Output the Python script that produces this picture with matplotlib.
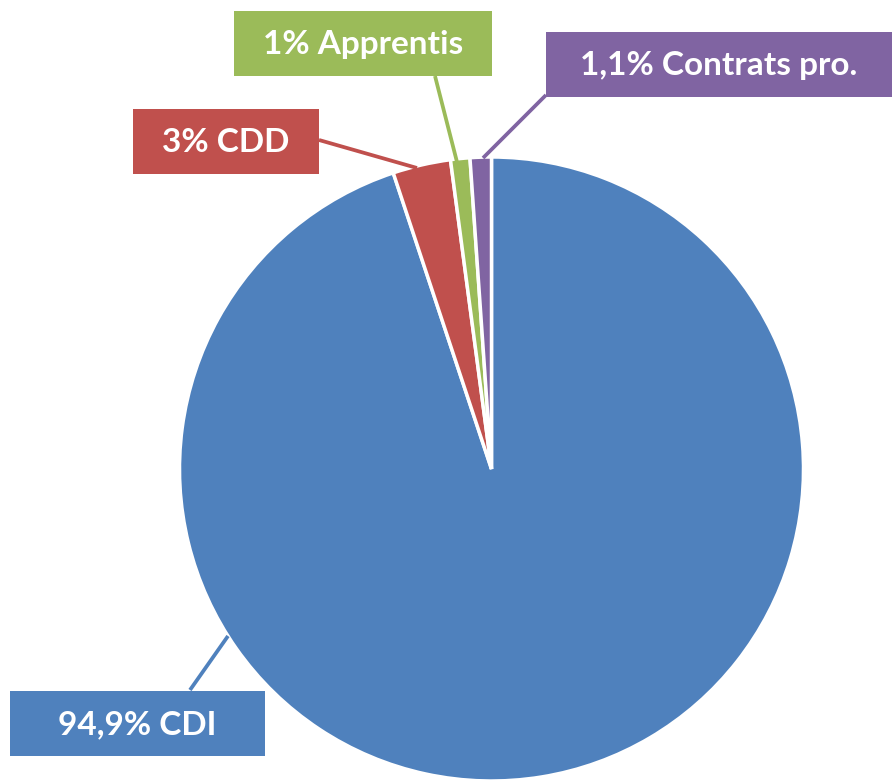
import matplotlib
matplotlib.use("Agg")
import matplotlib.pyplot as plt
from matplotlib.patches import Rectangle

# data
labels = ["94,9% CDI", "3% CDD", "1% Apprentis", "1,1% Contrats pro."]
values = [94.9, 3.0, 1.0, 1.1]
colors = ["#4F81BD", "#C0504D", "#9BBB59", "#8064A2"]

W, H = 892, 782
fig = plt.figure(figsize=(W / 100, H / 100), dpi=100)
ax = fig.add_axes([0, 0, 1, 1])

cx, cy, r = 491.5, H - 469, 312
ax.pie(values, colors=colors, startangle=90, counterclock=False,
       center=(cx, cy), radius=r, frame=True,
       wedgeprops=dict(edgecolor="white", linewidth=2.5))
ax.set_xlim(0, W)
ax.set_ylim(0, H)
ax.set_aspect("equal")
ax.axis("off")

# label boxes (pixel layout: x0, y0, x1, y1 from top-left) and leader lines
boxes = [(10, 691, 265, 756), (133, 109, 319, 174),
         (234, 11, 492, 76), (546, 32, 892, 97)]
leaders = [((190, 690), (228, 636)), ((319, 140), (417, 168)),
           ((435, 76), (457, 162)), ((546, 95), (483, 158))]

for lab, col, (x0, y0, x1, y1), (p, q) in zip(labels, colors, boxes, leaders):
    ax.plot([p[0], q[0]], [H - p[1], H - q[1]], color=col, lw=2.7,
            solid_capstyle="butt", zorder=3)
    ax.add_patch(Rectangle((x0, H - y1), x1 - x0, y1 - y0, facecolor=col,
                           edgecolor="none", zorder=4))
    ax.text((x0 + x1) / 2, H - (y0 + y1) / 2 - 1, lab, ha="center", va="center",
            color="white", fontsize=24, fontweight="bold", family="Lato",
            zorder=5)

fig.savefig("out.png", dpi=100)
